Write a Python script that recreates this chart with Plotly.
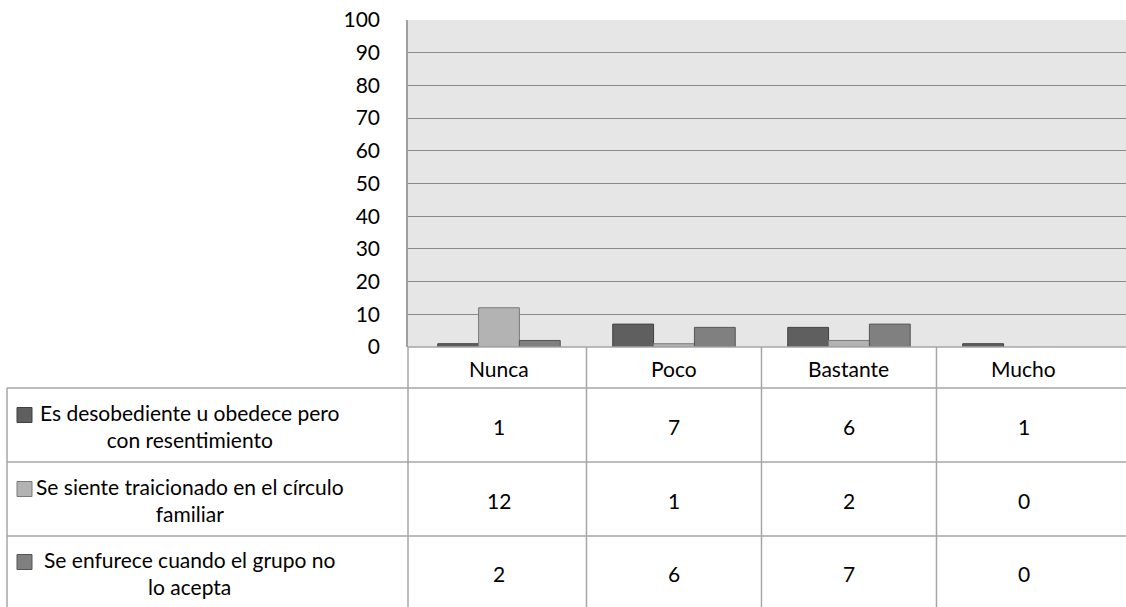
import plotly.graph_objects as go

categories = ["Nunca", "Poco", "Bastante", "Mucho"]
series_names = [
    "Es desobediente u obedece pero<br>con resentimiento",
    "Se siente traicionado en el círculo<br>familiar",
    "Se enfurece cuando el grupo no<br>lo acepta",
]
values_desobediente = [1, 7, 6, 1]
values_traicionado = [12, 1, 2, 0]
values_enfurece = [2, 6, 7, 0]
y_ticks = [0, 10, 20, 30, 40, 50, 60, 70, 80, 90, 100]

series_values = [values_desobediente, values_traicionado, values_enfurece]
colors = ["#5f5f5f", "#b3b3b3", "#808080"]
edge = ["#404040", "#7a7a7a", "#555555"]

W, H = 1126, 607
FONT = "Lato"
FS = 21
def px(x):
    return x / W
def py(y):
    return 1 - y / H

fig = go.Figure()
xs = list(range(len(categories)))
for name, vals, c, e in zip(series_names, series_values, colors, edge):
    fig.add_trace(go.Bar(x=xs, y=vals, name=name.replace("<br>", " "),
                         marker=dict(color=c, line=dict(color=e, width=[1 if v > 0 else 0 for v in vals])),
                         showlegend=False, hoverinfo="y"))

LINE = "#a6a6a6"
shapes = []
for yy in [388, 462, 536]:
    shapes.append(dict(type="line", xref="paper", yref="paper", x0=px(7), x1=1,
                       y0=py(yy), y1=py(yy), line=dict(color=LINE, width=1.5)))
shapes.append(dict(type="line", xref="paper", yref="paper", x0=px(408), x1=1,
                   y0=py(347), y1=py(347), line=dict(color=LINE, width=1.5)))
shapes.append(dict(type="line", xref="paper", yref="paper", x0=px(7), x1=px(7),
                   y0=py(388), y1=0, line=dict(color=LINE, width=1.5)))
shapes.append(dict(type="line", xref="paper", yref="paper", x0=px(408), x1=px(408),
                   y0=py(347), y1=0, line=dict(color=LINE, width=1.5)))
for i in range(len(categories) - 1):
    shapes.append(dict(type="line", xref="x", yref="paper", x0=i + 0.5, x1=i + 0.5,
                       y0=py(347), y1=0, line=dict(color=LINE, width=1.5)))

annotations = []
row_centers = [426, 500, 573]
for i, cat in enumerate(categories):
    annotations.append(dict(x=i, y=py(368), xref="x", yref="paper", text=cat,
                            xanchor="center", yanchor="middle",
                            showarrow=False, font=dict(family=FONT, size=FS, color="#000")))
for r, vals in enumerate(series_values):
    for i, v in enumerate(vals):
        annotations.append(dict(x=i, y=py(row_centers[r]), xref="x", yref="paper",
                                text=str(v), showarrow=False, xanchor="center", yanchor="middle",
                                font=dict(family=FONT, size=FS, color="#000")))
    annotations.append(dict(x=px(190), y=py(row_centers[r]), xref="paper", yref="paper",
                            text=series_names[r], showarrow=False, align="center",
                            xanchor="center", yanchor="middle",
                            font=dict(family=FONT, size=FS, color="#000")))
    cy = row_centers[r] - 11
    shapes.append(dict(type="rect", xref="paper", yref="paper", x0=px(17), x1=px(32),
                       y0=py(cy - 7.5), y1=py(cy + 7.5), fillcolor=colors[r],
                       line=dict(color=edge[r], width=1)))

fig.update_layout(
    width=W, height=H, margin=dict(l=0, r=0, t=0, b=0, autoexpand=False),
    paper_bgcolor="white", plot_bgcolor="#e6e6e6",
    barmode="group", bargap=0.30, bargroupgap=0,
    xaxis=dict(domain=[px(408), 1], range=[-0.52, 3.583], showticklabels=False,
               showgrid=False, zeroline=False, fixedrange=True, automargin=False),
    yaxis=dict(domain=[py(347), py(20)], range=[0, 100], tickvals=y_ticks,
               showgrid=True, gridcolor="#8a8a8a", gridwidth=1.2, zeroline=False,
               showline=True, linecolor="#a0a0a0", linewidth=1.5, automargin=False,
               ticks="", ticklabelstandoff=22, fixedrange=True,
               tickfont=dict(family=FONT, size=FS, color="#000")),
    shapes=shapes, annotations=annotations,
)
fig.write_html("out.html", config={"displayModeBar": False},
               post_script="document.body.style.margin='0';")
